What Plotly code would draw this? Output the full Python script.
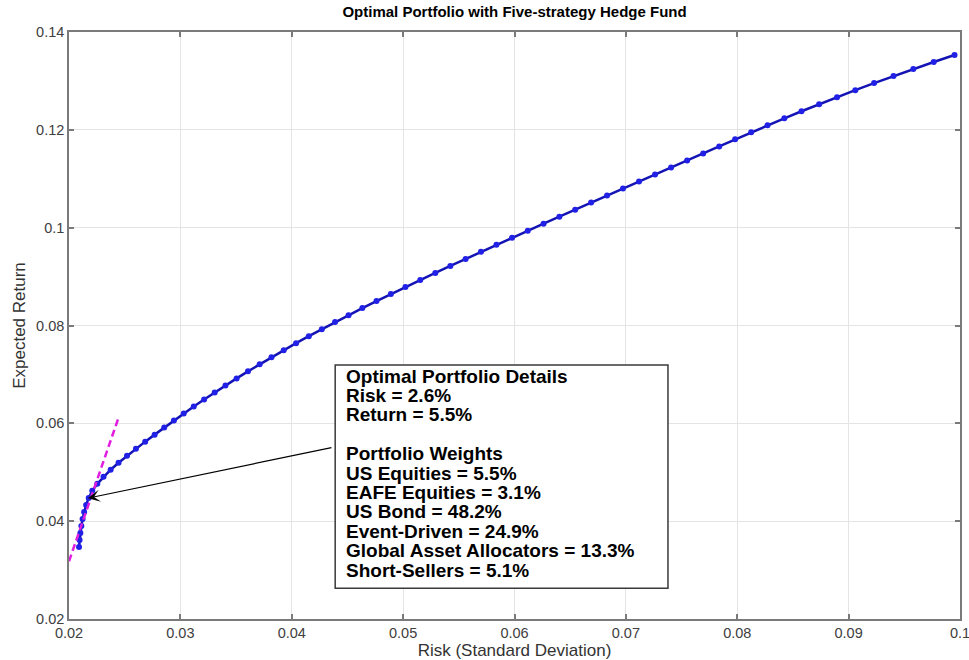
import plotly.graph_objects as go

# Efficient frontier: expected return and matching risk (standard deviation)
frontier_return = [
    0.03470, 0.03614, 0.03757, 0.03901, 0.04045, 0.04189, 0.04332, 0.04476,
    0.04620, 0.04763, 0.04907, 0.05051, 0.05195, 0.05338, 0.05482, 0.05626,
    0.05769, 0.05913, 0.06057, 0.06200, 0.06344, 0.06488, 0.06632, 0.06775,
    0.06919, 0.07063, 0.07206, 0.07350, 0.07494, 0.07638, 0.07781, 0.07925,
    0.08069, 0.08212, 0.08356, 0.08500, 0.08644, 0.08787, 0.08931, 0.09075,
    0.09218, 0.09362, 0.09506, 0.09650, 0.09793, 0.09937, 0.10081, 0.10224,
    0.10368, 0.10512, 0.10656, 0.10799, 0.10943, 0.11087, 0.11230, 0.11374,
    0.11518, 0.11661, 0.11805, 0.11949, 0.12093, 0.12236, 0.12380, 0.12524,
    0.12667, 0.12811, 0.12955, 0.13099, 0.13242, 0.13386, 0.13530,
]
frontier_risk = [
    0.02090, 0.02095, 0.02102, 0.02111, 0.02122, 0.02136, 0.02154, 0.02177,
    0.02209, 0.02254, 0.02310, 0.02374, 0.02445, 0.02521, 0.02601, 0.02684,
    0.02769, 0.02855, 0.02942, 0.03030, 0.03120, 0.03213, 0.03308, 0.03405,
    0.03505, 0.03607, 0.03712, 0.03818, 0.03928, 0.04039, 0.04153, 0.04270,
    0.04389, 0.04510, 0.04634, 0.04761, 0.04890, 0.05021, 0.05154, 0.05289,
    0.05424, 0.05561, 0.05699, 0.05838, 0.05978, 0.06119, 0.06261, 0.06403,
    0.06545, 0.06688, 0.06831, 0.06974, 0.07118, 0.07262, 0.07406, 0.07550,
    0.07694, 0.07838, 0.07981, 0.08125, 0.08272, 0.08423, 0.08577, 0.08735,
    0.08896, 0.09060, 0.09229, 0.09403, 0.09581, 0.09764, 0.09951,
]

# Tangent (capital allocation) line end points
tangent_risk = [0.0200, 0.0245]
tangent_return = [0.0318, 0.0615]

# Optimal portfolio point and the anchor of the arrow
optimal_point = (0.0217, 0.0447)
arrow_tail = (0.0437, 0.0551)

details_lines = [
    "Optimal Portfolio Details",
    "Risk = 2.6%",
    "Return = 5.5%",
    "",
    "Portfolio Weights",
    "US Equities = 5.5%",
    "EAFE Equities = 3.1%",
    "US Bond = 48.2%",
    "Event-Driven = 24.9%",
    "Global Asset Allocators = 13.3%",
    "Short-Sellers = 5.1%",
]

FONT = "Liberation Sans, Arial, Helvetica, sans-serif"
AXIS_GRAY = "#7a7a7a"

fig = go.Figure()

fig.add_trace(go.Scatter(
    x=frontier_risk, y=frontier_return, mode="lines+markers",
    line=dict(color="#1414b4", width=2.5),
    marker=dict(color="#2020e6", size=6),
    showlegend=False, hoverinfo="x+y",
))

fig.add_trace(go.Scatter(
    x=tangent_risk, y=tangent_return, mode="lines",
    line=dict(color="#e01ee0", width=2.5, dash="7px,4px"),
    showlegend=False, hoverinfo="skip",
))

# Framed box holding the portfolio details
box_x0, box_x1 = 0.0439, 0.07378
box_y0, box_y1 = 0.0263, 0.0719
fig.add_shape(type="rect", xref="x", yref="y",
              x0=box_x0, x1=box_x1, y0=box_y0, y1=box_y1,
              line=dict(color="#3a3a3a", width=1.5), fillcolor="white",
              layer="above")

# One annotation per text row so the rows can sit closer than Plotly's
# default line spacing
ROW_STEP = 19.4
for i, row in enumerate(details_lines):
    if not row:
        continue
    fig.add_annotation(
        x=box_x0, y=box_y1, xref="x", yref="y",
        xanchor="left", yanchor="middle", align="left",
        xshift=9, yshift=-(11 + i * ROW_STEP),
        text="<b>" + row + "</b>", showarrow=False,
        font=dict(family=FONT, size=19, color="black"),
    )

fig.add_annotation(
    x=optimal_point[0], y=optimal_point[1], xref="x", yref="y",
    ax=arrow_tail[0], ay=arrow_tail[1], axref="x", ayref="y",
    text="", showarrow=True, arrowhead=3, arrowsize=1.7,
    arrowwidth=1.2, arrowcolor="black",
)

axis_common = dict(
    showline=True, linecolor=AXIS_GRAY, linewidth=1.5, mirror="ticks",
    ticks="inside", ticklen=5, tickwidth=1.5, tickcolor=AXIS_GRAY,
    showgrid=True, gridcolor="#e4e4e4", gridwidth=1, zeroline=False,
    automargin=False, ticklabeloverflow="allow",
    tickfont=dict(family=FONT, size=14.5, color="#404040"),
)

fig.update_xaxes(
    range=[0.02, 0.1], dtick=0.01, tick0=0.02,
    title=dict(text="Risk (Standard Deviation)", standoff=0,
               font=dict(family=FONT, size=17, color="#333333")),
    **axis_common,
)
fig.update_yaxes(
    range=[0.02, 0.14], dtick=0.02, tick0=0.02,
    title=dict(text="Expected Return", standoff=6,
               font=dict(family=FONT, size=17, color="#333333")),
    **axis_common,
)

fig.update_layout(
    width=969, height=660,
    margin=dict(l=69, r=9, t=32, b=41),
    paper_bgcolor="white", plot_bgcolor="white",
    title=dict(text="<b>Optimal Portfolio with Five-strategy Hedge Fund</b>",
               x=0.531, xanchor="center", y=0.982, yanchor="middle",
               yref="container",
               font=dict(family=FONT, size=15, color="black")),
)

fig.write_html("out.html")
